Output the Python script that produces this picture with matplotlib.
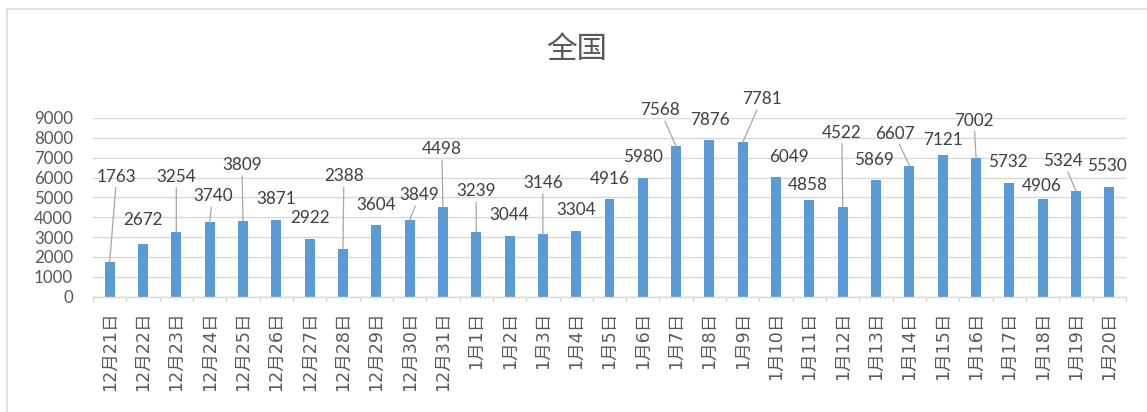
import numpy as np
import matplotlib
matplotlib.use('Agg')
import matplotlib.pyplot as plt
from matplotlib.lines import Line2D

plt.rcParams['font.family'] = ['Lato', 'Noto Sans CJK SC', 'DejaVu Sans']

dates = ['12月21日', '12月22日', '12月23日', '12月24日', '12月25日', '12月26日',
         '12月27日', '12月28日', '12月29日', '12月30日', '12月31日',
         '1月1日', '1月2日', '1月3日', '1月4日', '1月5日', '1月6日', '1月7日',
         '1月8日', '1月9日', '1月10日', '1月11日', '1月12日', '1月13日',
         '1月14日', '1月15日', '1月16日', '1月17日', '1月18日', '1月19日', '1月20日']
values = [1763, 2672, 3254, 3740, 3809, 3871, 2922, 2388, 3604, 3849, 4498,
          3239, 3044, 3146, 3304, 4916, 5980, 7568, 7876, 7781, 6049, 4858,
          4522, 5869, 6607, 7121, 7002, 5732, 4906, 5324, 5530]

# where Excel put each data label (pixels from the bar top) and whether it has a leader line
label_offsets = [(7, 85), (0, 24), (0, 55), (3, 26), (-1, 56), (0, 21), (0, 21),
                 (1, 73), (0, 20), (10, 25), (-1, 58), (0, 41), (0, 21), (0, 51),
                 (0, 21), (0, 20), (0, 21), (-16, 36), (0, 20), (19, 43), (13, 20),
                 (-2, 15), (-1, 74), (-2, 20), (-15, 32), (0, 15), (-2, 37),
                 (-2, 21), (-1, 13), (-13, 30), (-2, 21)]
leaders = [1, 0, 1, 1, 1, 0, 0, 1, 0, 1, 1, 1, 0, 1, 0, 0, 0, 1, 0, 1, 0,
           0, 1, 0, 1, 0, 1, 0, 0, 1, 0]

W, H = 1147, 412
fig = plt.figure(figsize=(W / 100, H / 100), dpi=100)
ax = fig.add_axes([93 / W, 1 - 296.7 / H, (1126 - 93) / W, (296.7 - 118) / H])

x = np.arange(len(values))
ax.bar(x, values, width=0.3, color='#5B9BD5', zorder=2)
ax.set_xlim(-0.5, len(values) - 0.5)
ax.set_ylim(0, 9000)
ax.set_yticks(range(0, 9001, 1000))
ax.yaxis.grid(True, color='#d9d9d9', lw=1)
ax.set_axisbelow(True)
for s in ['top', 'right', 'left']:
    ax.spines[s].set_visible(False)
ax.spines['bottom'].set_color('#d9d9d9')
ax.spines['bottom'].set_linewidth(1)

ax.tick_params(axis='y', length=0, pad=14.4, labelsize=12.2, labelcolor='#595959')
ax.set_xticks(x)
ax.set_xticklabels(dates, rotation=90, fontsize=12.6, color='#595959',
                   family=['DejaVu Sans', 'Noto Sans CJK SC'])
ax.tick_params(axis='x', which='major', length=0, pad=10.5)
ax.set_xticks(np.arange(-0.5, len(values), 1), minor=True)
ax.tick_params(axis='x', which='minor', length=3.6, width=1, color='#d9d9d9')

for i, v in enumerate(values):
    dx, dy = label_offsets[i]
    arrow = dict(arrowstyle='-', color='#a6a6a6', lw=0.9, shrinkA=0, shrinkB=0) if leaders[i] else None
    ax.annotate(str(v), xy=(i, v), xytext=(dx, dy), textcoords='offset pixels',
                ha='center', va='center', fontsize=12.3, color='#404040',
                arrowprops=arrow, annotation_clip=False)

fig.text(577 / W, 1 - 49 / H, '全国', fontsize=22, color='#595959',
         ha='center', va='center', family=['Noto Sans CJK SC'])

# chart area border (only left and top edges visible)
fig.add_artist(Line2D([7 / W, 7 / W], [0, 1 - 9 / H], transform=fig.transFigure,
                      color='#d9d9d9', lw=1.1))
fig.add_artist(Line2D([7 / W, 1], [1 - 9 / H, 1 - 9 / H], transform=fig.transFigure,
                      color='#d9d9d9', lw=1.1))

fig.savefig('out.png', dpi=100)
